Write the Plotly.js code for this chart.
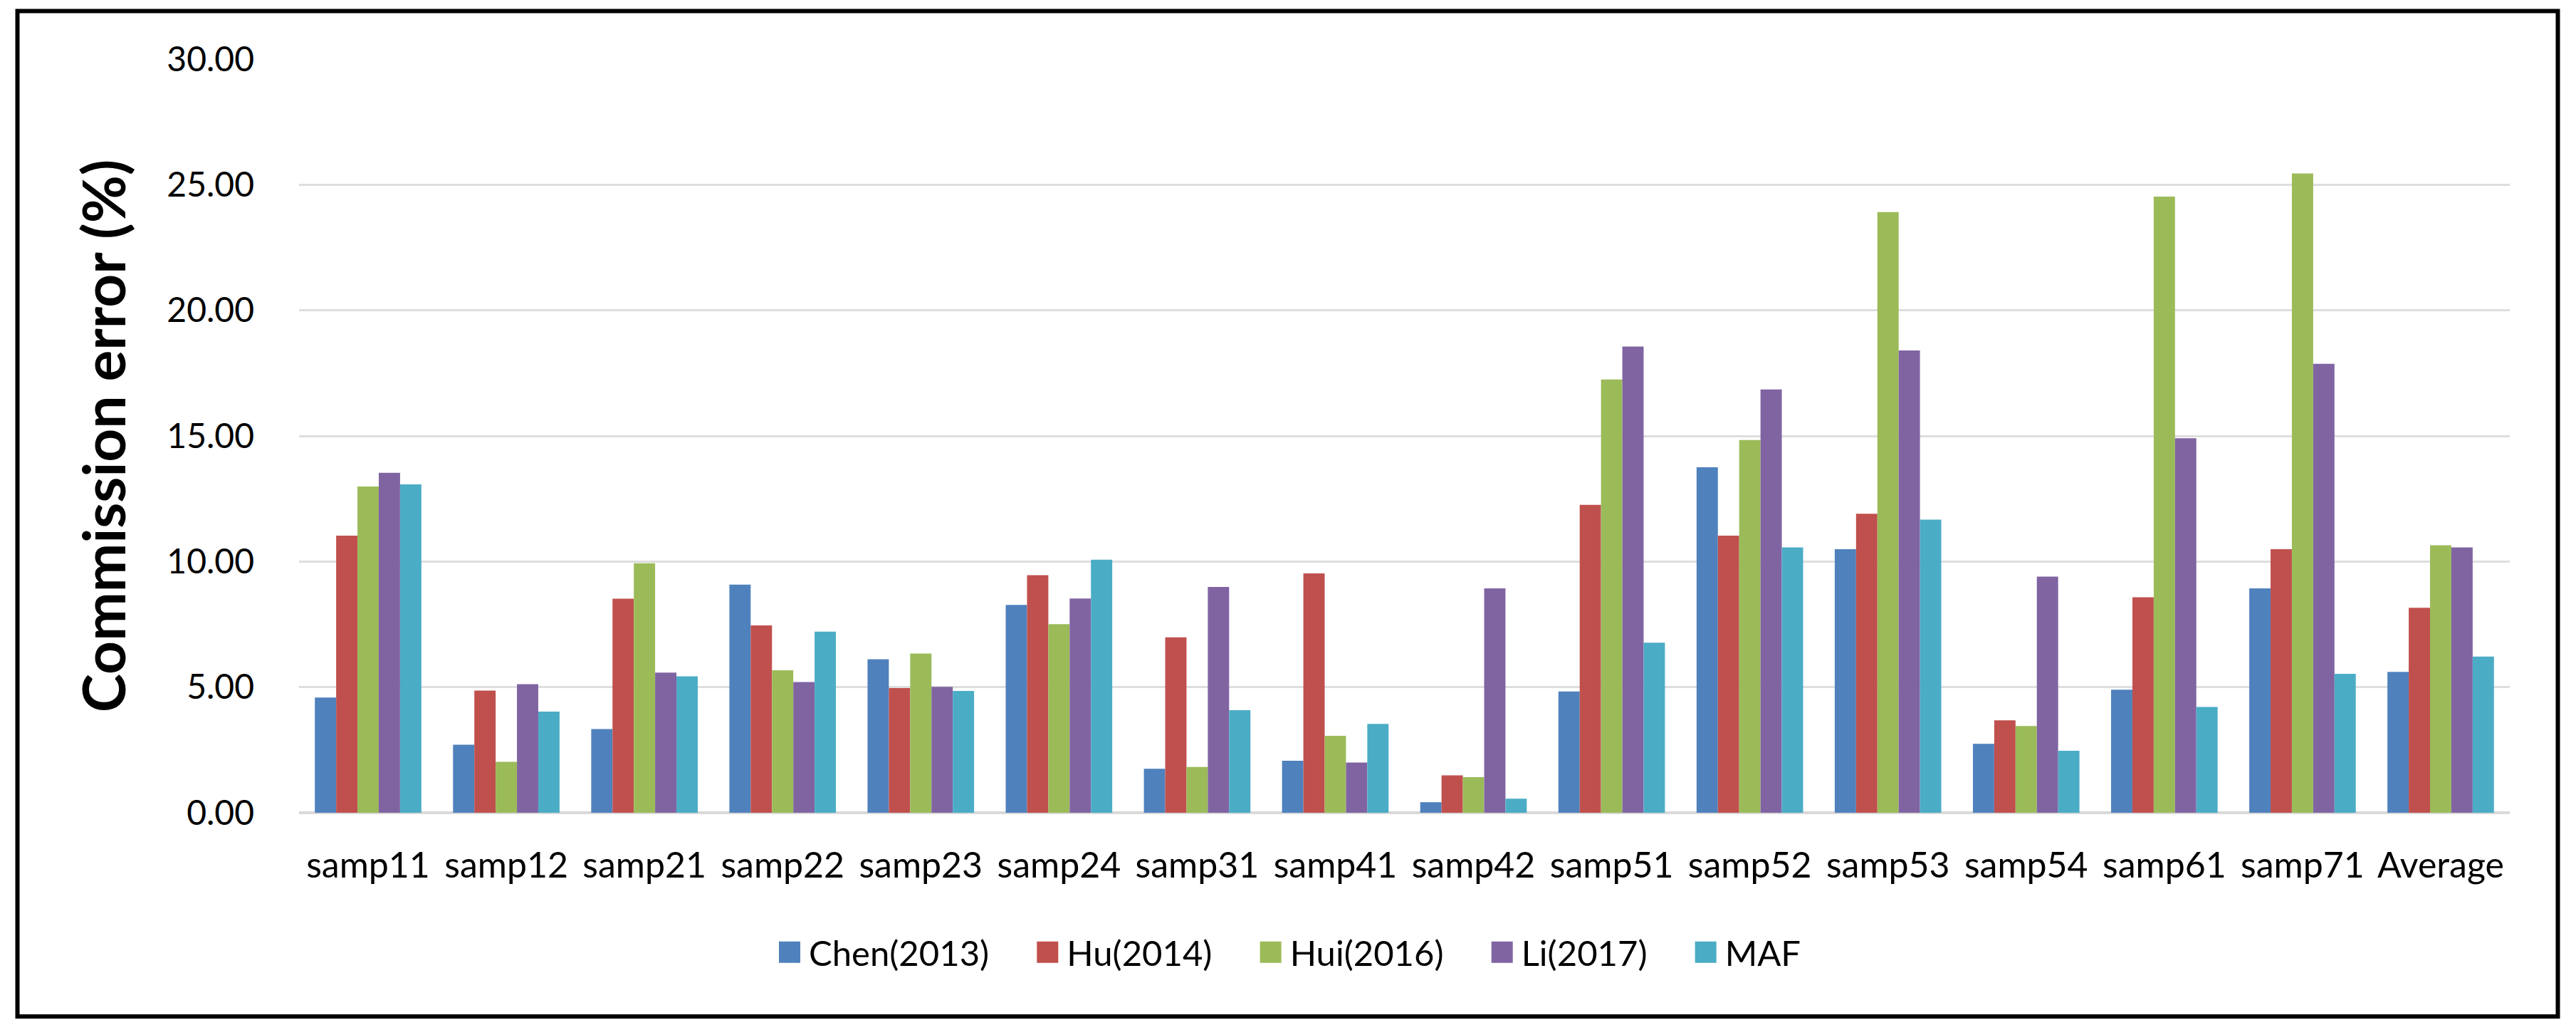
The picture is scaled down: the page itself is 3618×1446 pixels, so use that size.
<!DOCTYPE html>
<html>
<head>
<meta charset="utf-8">
<script src="https://cdn.plot.ly/plotly-3.0.1.min.js"></script>
<style>
  html, body { margin: 0; padding: 0; background: #fff; }
  #chart { width: 3618px; height: 1446px; }
</style>
</head>
<body>
<div id="chart"></div>
<script>
// values (commission error, %)
var categories = ['samp11', 'samp12', 'samp21', 'samp22', 'samp23', 'samp24', 'samp31', 'samp41',
                  'samp42', 'samp51', 'samp52', 'samp53', 'samp54', 'samp61', 'samp71', 'Average'];
var chen = [4.59, 2.71, 3.33, 9.08, 6.11, 8.27, 1.75, 2.07, 0.42, 4.83, 13.75, 10.49, 2.74, 4.90, 8.93, 5.61];
var hu   = [11.03, 4.86, 8.52, 7.46, 4.96, 9.46, 6.98, 9.53, 1.49, 12.26, 11.03, 11.90, 3.68, 8.58, 10.49, 8.16];
var hui  = [12.99, 2.03, 9.93, 5.67, 6.34, 7.51, 1.82, 3.06, 1.42, 17.25, 14.84, 23.91, 3.45, 24.53, 25.45, 10.65];
var li   = [13.53, 5.12, 5.58, 5.20, 5.01, 8.53, 8.99, 2.00, 8.93, 18.56, 16.85, 18.40, 9.40, 14.91, 17.87, 10.56];
var maf  = [13.07, 4.03, 5.43, 7.21, 4.85, 10.07, 4.08, 3.54, 0.56, 6.77, 10.56, 11.67, 2.47, 4.21, 5.53, 6.22];

var seriesNames = ['Chen(2013)', 'Hu(2014)', 'Hui(2016)', 'Li(2017)', 'MAF'];
var seriesColors = ['#4F81BD', '#C0504D', '#9BBB59', '#8064A2', '#4BACC6'];
var yTicks = [0, 5, 10, 15, 20, 25, 30];

var pad = '\u00a0\u00a0\u00a0\u00a0';
var FONT = 'Lato, "Open Sans", sans-serif';

var traces = [chen, hu, hui, li, maf].map(function(vals, i) {
    return {
        type: 'bar',
        x: categories,
        y: vals,
        name: seriesNames[i] + (i < 4 ? pad : ''),
        marker: { color: seriesColors[i], line: { width: 0 } }
    };
});

var W = 3618, H = 1446;
var mL = 420, mR = 93, mT = 83, mB = 305;
var pw = W - mL - mR, ph = H - mT - mB;
// frame position in px -> paper fraction
function px(x) { return (x - mL) / pw; }
function py(y) { return (H - mB - y) / ph; }

var layout = {
    width: W, height: H,
    margin: { l: mL, r: mR, t: mT, b: mB, pad: 0 },
    paper_bgcolor: '#fff', plot_bgcolor: '#fff',
    font: { family: FONT, color: '#000' },
    barmode: 'group',
    bargap: 0.229,
    bargroupgap: 0,
    showlegend: true,
    legend: {
        orientation: 'h',
        x: px(1082), xanchor: 'left',
        y: py(1337), yanchor: 'middle',
        font: { family: FONT, size: 49, color: '#000' },
        itemwidth: 44,
        bgcolor: 'rgba(0,0,0,0)'
    },
    xaxis: {
        type: 'category',
        showgrid: false,
        showline: false,
        ticks: '',
        zeroline: false,
        tickfont: { family: FONT, size: 50, color: '#000' },
        ticklabelstandoff: 40
    },
    yaxis: {
        range: [0, 30],
        tickvals: yTicks,
        tickformat: '.2f',
        showgrid: true,
        gridcolor: '#dedede',
        gridwidth: 3,
        zeroline: true,
        zerolinecolor: '#d9d9d9',
        zerolinewidth: 4,
        showline: false,
        ticks: '',
        tickfont: { family: FONT, size: 48, color: '#000' },
        ticklabelstandoff: 62,
        title: {
            text: 'Commission error (%)',
            font: { family: FONT, size: 82, color: '#000', weight: 'bold' },
            standoff: 30
        }
    },
    shapes: [{
        type: 'rect', xref: 'paper', yref: 'paper',
        x0: px(24.5), x1: px(3592.5), y0: py(1427), y1: py(15.5),
        line: { color: '#000', width: 6 }, fillcolor: 'rgba(0,0,0,0)'
    }]
};

Plotly.newPlot('chart', traces, layout, { staticPlot: true }).then(function(gd) {
    // Excel-style larger legend swatches
    var pts = gd.querySelectorAll('.legend g.legendpoints path');
    pts.forEach(function(p) { p.setAttribute('d', 'M15,15H-15V-15H15Z'); });
});
</script>
</body>
</html>
